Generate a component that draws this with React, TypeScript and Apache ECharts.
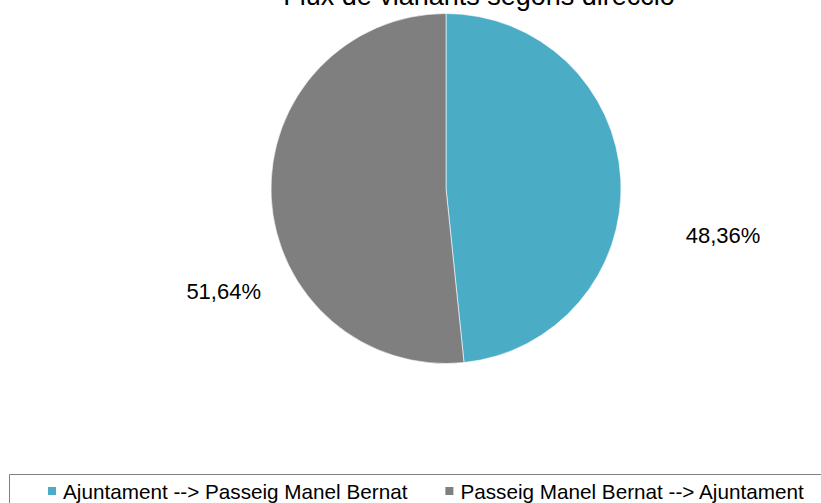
import React, { useEffect, useRef } from "react";
import * as echarts from "echarts";

const titleText = "Flux de vianants segons direcció";
const categories = ["Ajuntament --> Passeig Manel Bernat", "Passeig Manel Bernat --> Ajuntament"];
const values = [48.36, 51.64];
const colors = ["#4BACC6", "#7F7F7F"];
const labelPositions = [
  [723, 235.5],
  [223.7, 291.7],
];

const FONT = "'Liberation Sans', Arial, sans-serif";

export default function App() {
  const ref = useRef<HTMLDivElement>(null);
  useEffect(() => {
    if (!ref.current) return;
    const chart = echarts.init(ref.current, undefined, { renderer: "svg" });
    chart.setOption({
      animation: false,
      backgroundColor: "#ffffff",
      title: {
        text: titleText,
        left: 479,
        top: -18,
        textAlign: "center",
        padding: 0,
        textStyle: { fontSize: 27, fontWeight: "normal", color: "#000", fontFamily: FONT },
      },
      legend: {
        left: 46,
        top: 480.5,
        padding: 0,
        itemWidth: 10,
        itemHeight: 10,
        itemGap: 36,
        icon: "rect",
        data: categories,
        textStyle: { fontSize: 20.7, color: "#000", fontFamily: FONT, padding: [0, 0, 0, 1] },
      },
      graphic: [
        {
          type: "rect",
          shape: { x: 9.5, y: 474.5, width: 900, height: 100 },
          style: { fill: "none", stroke: "#7f7f7f", lineWidth: 1 },
          silent: true,
        },
      ],
      series: [
        {
          type: "pie",
          center: [446, 188.5],
          radius: 175,
          startAngle: 90,
          clockwise: true,
          data: categories.map((c, i) => ({ name: c, value: values[i], itemStyle: { color: colors[i] } })),
          itemStyle: { borderColor: "#ffffff", borderWidth: 0.6 },
          label: {
            show: true,
            position: "outside",
            formatter: (p: any) => `${p.value.toFixed(2).replace(".", ",")}%`,
            fontSize: 22,
            color: "#000",
            fontFamily: FONT,
          },
          labelLine: { show: false },
          labelLayout: (p: any) => ({
            x: labelPositions[p.dataIndex][0],
            y: labelPositions[p.dataIndex][1],
            align: "center",
            verticalAlign: "middle",
          }),
          emphasis: { disabled: true },
        },
      ],
    });
    return () => chart.dispose();
  }, []);
  return (
    <div
      ref={ref}
      style={{ position: "absolute", left: 0, top: 0, width: 821, height: 503 }}
    />
  );
}
